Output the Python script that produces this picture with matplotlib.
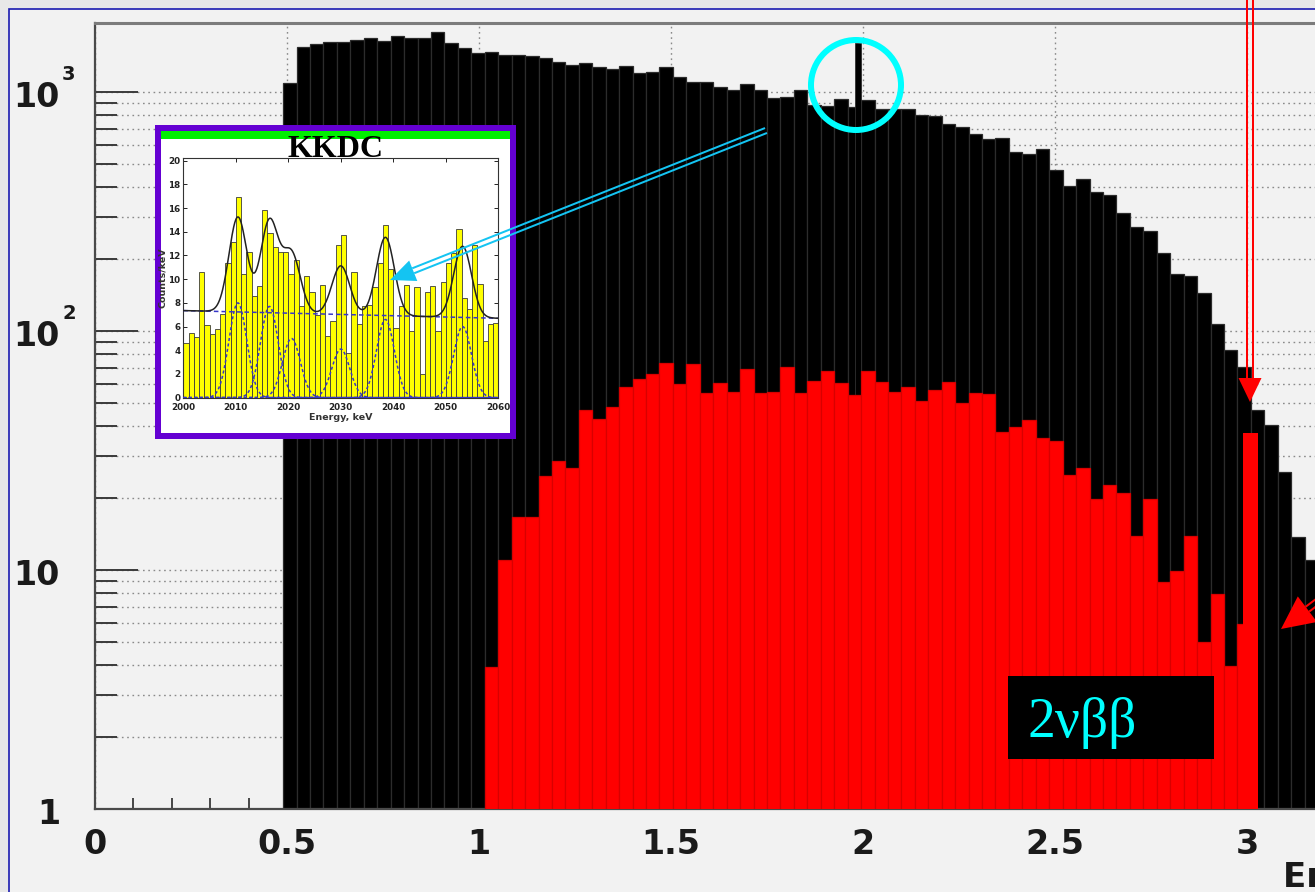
import numpy as np
import matplotlib
matplotlib.use("Agg")
import matplotlib.pyplot as plt
from matplotlib.patches import Rectangle, Circle, Polygon
from matplotlib.lines import Line2D
from matplotlib.transforms import Affine2D, blended_transform_factory, offset_copy
from matplotlib.ticker import FixedLocator, MultipleLocator, NullFormatter

W, H, DPI = 1315, 892, 100

# ---------------- main spectrum (35 keV bins) ----------------
bin_width = 0.035
total_first_bin = 14
total_counts = [1087, 1538, 1581, 1614, 1614, 1651, 1678, 1641, 1718, 1687,
                1678, 1777, 1606, 1524, 1459, 1472, 1428, 1428, 1415, 1383,
                1340, 1297, 1319, 1275, 1253, 1288, 1197, 1214, 1276, 1156,
                1096, 1096, 1051, 1019, 1079, 1019, 946, 950, 1019, 880,
                875, 933, 867, 925, 853, 853, 846, 801, 795, 738,
                712, 670, 633, 639, 563, 551, 576, 472, 406, 432,
                383, 371, 311, 273, 263, 213, 173, 170, 144, 107,
                83, 71, 46.7, 40.4, 25.8, 13.8, 11.0]

bb2v_first_bin = 29
bb2v_counts = [3.94, 11.0, 16.7, 16.7, 24.8, 28.7, 26.6, 46.7, 42.7, 48.2,
               58.4, 62.8, 65.9, 73.7, 59.8, 72.6, 54.9, 60.4, 55.7, 69.3,
               54.9, 55.7, 70.5, 54.9, 61.8, 68.2, 60.8, 54.0, 68.2, 61.4,
               55.7, 58.4, 51.0, 56.6, 61.4, 50.1, 55.2, 54.3, 37.9, 39.6,
               42.4, 35.8, 34.7, 25.0, 26.6, 19.9, 22.7, 20.9, 13.9, 19.8,
               8.93, 9.93, 13.9, 4.98, 7.94, 3.97, 5.93]

# narrow line near Q_bb and the peak near 3 MeV
line_energy = [1.986]
line_width = [0.015]
line_counts = [1603]
peak_energy = [3.009]
peak_width = [0.040]
peak_counts = [37.5]

x_major_ticks = [0, 0.5, 1, 1.5, 2, 2.5, 3]
x_tick_labels = ["0", "0.5", "1", "1.5", "2", "2.5", "3"]
y_major_ticks = [1, 10, 100, 1000]
y_tick_base = ["1", "10", "10", "10"]
y_tick_exp = ["", "", "2", "3"]

# ---------------- KKDC inset (1 keV bins) ----------------
kkdc_start = 2000
kkdc_counts = [4.6, 5.5, 5.1, 10.6, 6.1, 5.4, 5.8, 7.1, 11.4, 13.1,
               16.9, 10.4, 12.3, 8.6, 9.4, 15.8, 13.9, 12.7, 12.3, 12.3,
               10.4, 11.6, 7.7, 10.3, 8.9, 7.0, 9.5, 5.2, 6.5, 12.9,
               13.7, 3.8, 10.6, 6.2, 7.7, 7.8, 9.3, 11.4, 14.6, 10.9,
               5.9, 7.7, 9.5, 5.6, 9.3, 2.0, 8.9, 9.4, 5.6, 9.8,
               11.4, 12.2, 14.2, 8.4, 7.5, 12.9, 9.6, 4.8, 6.2, 6.3]
kkdc_peak_centers = [2010.4, 2016.4, 2020.6, 2030.0, 2038.5, 2053.2]
kkdc_peak_heights = [8.0, 7.7, 5.0, 4.1, 6.6, 6.0]
kkdc_peak_sigma = 1.7
kkdc_bg_ends = [7.35, 6.70]

# ---------------- figure ----------------
fig = plt.figure(figsize=(W / DPI, H / DPI), dpi=DPI)
fig.patch.set_facecolor('#e8e8e8')

# image-pixel coordinates (origin top-left) -> display
pix = Affine2D().scale(1, -1).translate(0, H)


def fig_rect(x0, y0, x1, y1):
    return [x0 / W, 1 - y1 / H, (x1 - x0) / W, (y1 - y0) / H]


fig.add_artist(Rectangle((9, 9), 1500, 1000, transform=pix, facecolor='#f2f2f2',
                         edgecolor='#1c1cb0', lw=1.2, zorder=-5))

AX_L, AX_T, AX_B, PX_PER_MEV = 95, 23, 809, 384
ax = fig.add_axes(fig_rect(AX_L, AX_T, AX_L + 3.5 * PX_PER_MEV, AX_B))
ax.set_facecolor('#f2f2f2')
ax.set_yscale('log')

tot_left = (total_first_bin + np.arange(len(total_counts))) * bin_width
ax.bar(tot_left, total_counts, width=bin_width, align='edge', color='black',
       edgecolor='#2c2c2c', linewidth=0.9, zorder=2)
ax.bar(line_energy, line_counts, width=line_width, color='black',
       edgecolor='#303030', linewidth=0.6, zorder=2.1)

bb_left = (bb2v_first_bin + np.arange(len(bb2v_counts))) * bin_width
ax.bar(bb_left, bb2v_counts, width=bin_width, align='edge', color='#ff0000',
       edgecolor='#d80000', linewidth=0.9, zorder=3)
ax.bar(peak_energy, peak_counts, width=peak_width, color='#ff0000',
       edgecolor='#ff0000', linewidth=0, zorder=3.1)

ax.set_xlim(0, 3.5)
ax.set_ylim(1, 10 ** ((AX_B - AX_T) / 239.0))

ax.set_axisbelow(True)
ax.yaxis.set_major_locator(FixedLocator(y_major_ticks))
ax.yaxis.set_minor_locator(FixedLocator([m * 10 ** e for e in range(0, 4) for m in range(2, 10)]))
ax.yaxis.set_major_formatter(NullFormatter())
ax.yaxis.set_minor_formatter(NullFormatter())
ax.set_xticks(x_major_ticks)
ax.set_xticklabels(x_tick_labels, fontsize=24, fontweight='bold', family='DejaVu Sans',
                   color='#1a1a1a')
ax.xaxis.set_minor_locator(MultipleLocator(0.1))

grid_style = dict(color='#8a8a8a', linestyle=(0, (1.2, 2.6)), linewidth=1.0)
ax.grid(True, which='both', axis='y', **grid_style)
ax.grid(True, which='major', axis='x', **grid_style)
ax.axvline(3.5, **grid_style, zorder=0.5)

ax.tick_params(axis='x', which='major', direction='in', length=16.5, width=1.3,
               color='#3a3a3a', pad=14, top=False)
ax.tick_params(axis='x', which='minor', direction='in', length=8, width=1.3,
               color='#3a3a3a', top=False)
ax.tick_params(axis='y', which='major', direction='in', length=31, width=1.4,
               color='#3a3a3a', right=False)
ax.tick_params(axis='y', which='minor', direction='in', length=16, width=1.4,
               color='#3a3a3a', right=False)

for side in ('left', 'bottom'):
    ax.spines[side].set_color('#4a4a4a')
    ax.spines[side].set_linewidth(1.6)
ax.spines['top'].set_color('#7c7c7c')
ax.spines['top'].set_linewidth(2.2)
ax.spines['right'].set_visible(False)

# y tick labels: base number and exponent
ylab_tr = blended_transform_factory(pix, ax.transData)
for val, base, exp in zip(y_major_ticks, y_tick_base, y_tick_exp):
    fig.text(60, val, base, transform=offset_copy(ylab_tr, fig=fig, y=-15, units='dots'),
             ha='right', va='baseline', fontsize=24, fontweight='bold',
             family='DejaVu Sans', color='#1a1a1a')
    if exp:
        fig.text(62, val, exp, transform=offset_copy(ylab_tr, fig=fig, y=12, units='dots'),
                 ha='left', va='baseline', fontsize=14, fontweight='bold',
                 family='DejaVu Sans', color='#1a1a1a')

fig.text(1283, 887, "Energy [MeV]", transform=pix, ha='left', va='baseline',
         fontsize=24.5, fontweight='bold', family='DejaVu Sans', color='#1a1a1a')

# ---------------- inset panel ----------------
fig.add_artist(Rectangle((158, 128), 354.5, 307.5, transform=pix, facecolor='white',
                         edgecolor='#6400d2', lw=6 * 0.72, zorder=4))
fig.add_artist(Rectangle((161, 130.5), 349, 8, transform=pix, facecolor='#00f000',
                         edgecolor='none', zorder=4.1))
fig.text(336, 157, "KKDC", transform=pix, ha='center', va='baseline', fontsize=23,
         fontweight='bold', family='Liberation Serif', color='black', zorder=4.2)

iax = fig.add_axes(fig_rect(183.3, 158.3, 498.3, 397.7), zorder=5)
iax.set_facecolor('white')
k_left = kkdc_start + np.arange(len(kkdc_counts))
iax.bar(k_left, kkdc_counts, width=1, align='edge', color='#ffff00',
        edgecolor='#3a3a3a', linewidth=0.6, zorder=2)

e = np.linspace(2000, 2060, 601)
bg = kkdc_bg_ends[0] + (kkdc_bg_ends[1] - kkdc_bg_ends[0]) * (e - 2000) / 60.0
comps = [h * np.exp(-0.5 * ((e - c) / kkdc_peak_sigma) ** 2)
         for c, h in zip(kkdc_peak_centers, kkdc_peak_heights)]
iax.plot(e, bg + np.sum(comps, axis=0), color='#222222', lw=1.1, zorder=4)
iax.plot(e, bg, color='#3636c8', lw=1.1, ls=(0, (3, 2)), zorder=3)
for c in comps:
    iax.plot(e, c, color='#3636c8', lw=1.1, ls=(0, (2, 1.6)), zorder=3)

iax.set_xlim(2000, 2060)
iax.set_ylim(0, 20.2)
iax.set_xticks(range(2000, 2061, 10))
iax.set_yticks(range(0, 21, 2))
iax.tick_params(direction='in', length=3, width=0.6, labelsize=6.3, top=True, right=True,
                labelcolor='#222222')
iax.tick_params(axis='x', pad=3.5)
iax.tick_params(axis='y', pad=2)
for lab in iax.get_xticklabels() + iax.get_yticklabels():
    lab.set_fontweight('bold')
for sp in iax.spines.values():
    sp.set_linewidth(0.8)
    sp.set_color('#333333')
iax.set_xlabel("Energy, keV", fontsize=6.8, labelpad=1, color='#333333', fontweight='bold')
iax.set_ylabel("Counts/keV", fontsize=6.8, labelpad=1, color='#333333', fontweight='bold')


# ---------------- annotations ----------------
def double_arrow(start, tip, color, gap, lw_px, head_len, head_half, zorder):
    s = np.array(start, float)
    t = np.array(tip, float)
    u = (t - s) / np.linalg.norm(t - s)
    n = np.array([-u[1], u[0]])
    base = t - head_len * u
    for sgn in (-1, 1):
        p0 = s + sgn * gap / 2 * n
        p1 = base + sgn * gap / 2 * n
        fig.add_artist(Line2D([p0[0], p1[0]], [p0[1], p1[1]], transform=pix, color=color,
                              lw=lw_px * 0.72, solid_capstyle='butt', zorder=zorder))
    fig.add_artist(Polygon([t, base + head_half * n, base - head_half * n], closed=True,
                           transform=pix, facecolor=color, edgecolor='none', zorder=zorder))


double_arrow((766, 130.5), (390, 280), '#14c4f2', 5.3, 2.0, 25, 11, 10)
double_arrow((1250, -5), (1250, 402), '#ff0000', 5.4, 2.0, 24, 11.5, 10)
double_arrow((1401, 539), (1281, 629), '#ff0000', 6.0, 2.0, 33, 16, 10)

fig.add_artist(Circle((856, 85), 45, transform=pix, fill=False, edgecolor='#00ffff',
                      lw=6 * 0.72, zorder=9))

fig.add_artist(Rectangle((1008, 676), 206, 83, transform=pix, facecolor='black',
                         edgecolor='none', zorder=8))
fig.text(1027, 737, "2νββ", transform=pix, ha='left', va='baseline', fontsize=40,
         family='Liberation Serif', color='#00ffff', zorder=9)

fig.savefig("out.png", dpi=DPI, facecolor=fig.get_facecolor())
